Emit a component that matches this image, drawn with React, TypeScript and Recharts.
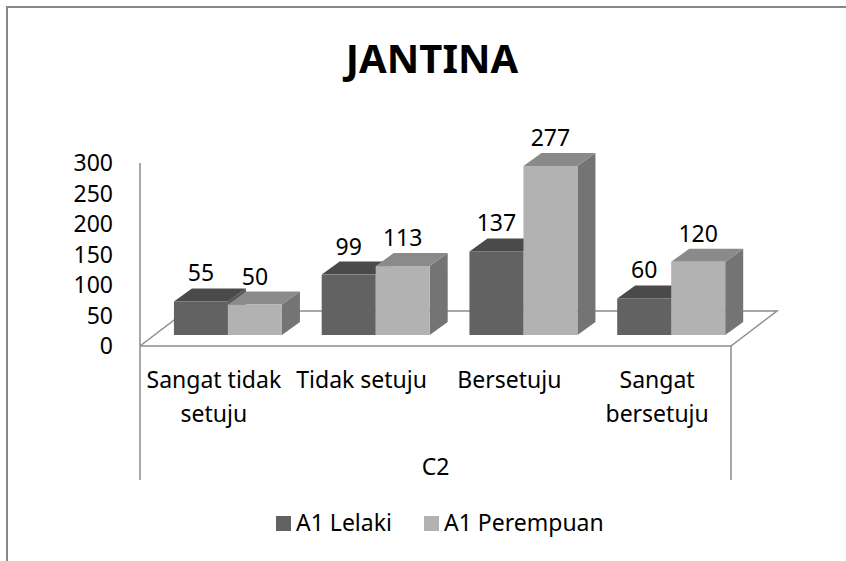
import { BarChart, Bar, XAxis, YAxis, LabelList, Customized } from "recharts"

const categories = ["Sangat tidak setuju", "Tidak setuju", "Bersetuju", "Sangat bersetuju"]
const categoryLines = [["Sangat tidak", "setuju"], ["Tidak setuju"], ["Bersetuju"], ["Sangat", "bersetuju"]]
const lelaki = [55, 99, 137, 60]
const perempuan = [50, 113, 277, 120]
const yTicks = [0, 50, 100, 150, 200, 250, 300]
const seriesNames = ["A1 Lelaki", "A1 Perempuan"]

const data = categories.map((name, i) => ({ name, lelaki: lelaki[i], perempuan: perempuan[i] }))

const FONT = "'Noto Sans', sans-serif"
const LINE = "#8c8c8c"

// plot box (fixed by margins below)
const LEFT = 140
const RIGHT = 731
const BOTTOM = 346

// fake 3d offsets
const SX = 14
const SY = -11
const DX = 18
const DY = -13
const FX = 46
const FY = -35

const colors = {
  lelaki: { front: "#626262", top: "#4a4a4a", side: "#555555" },
  perempuan: { front: "#b2b2b2", top: "#8a8a8a", side: "#747474" },
}

const box = (c: { front: string; top: string; side: string }) => (props: any) => {
  const { x, y, width, height } = props
  const fx = x + SX
  const fy = y + SY
  const fb = fy + height
  return (
    <g>
      <polygon
        points={`${fx + width},${fy} ${fx + width + DX},${fy + DY} ${fx + width + DX},${fb + DY} ${fx + width},${fb}`}
        fill={c.side}
      />
      <polygon
        points={`${fx},${fy} ${fx + DX},${fy + DY} ${fx + width + DX},${fy + DY} ${fx + width},${fy}`}
        fill={c.top}
      />
      <rect x={fx} y={fy} width={width} height={height} fill={c.front} />
    </g>
  )
}

const valueLabel = (props: any) => {
  const { x, y, width, value } = props
  return (
    <text x={x + width / 2 + SX} y={y + SY - 20} textAnchor="middle" fontSize={23} fontFamily={FONT} fill="#000">
      {value}
    </text>
  )
}

const CategoryTick = (props: any) => {
  const { x, y, payload } = props
  const lines = categoryLines[categories.indexOf(payload.value)] || [payload.value]
  return (
    <g>
      {lines.map((l, i) => (
        <text key={i} x={x} y={y + 42 + i * 34} textAnchor="middle" fontSize={23} fontFamily={FONT} fill="#000">
          {l}
        </text>
      ))}
    </g>
  )
}

const Floor = () => (
  <g stroke={LINE} strokeWidth={1.5} fill="none">
    <polyline points="7,561 7,7 846,7" stroke="#878787" strokeWidth={2} />
    <polyline points={`${LEFT},${BOTTOM} ${LEFT + FX},${BOTTOM + FY} ${RIGHT + FX},${BOTTOM + FY} ${RIGHT},${BOTTOM}`} />
    <line x1={LEFT} y1={BOTTOM} x2={LEFT} y2={480} />
    <line x1={RIGHT} y1={BOTTOM} x2={RIGHT} y2={480} />
  </g>
)

const legendX = [276, 424]
const legendColors = [colors.lelaki.front, colors.perempuan.front]

const Extras = () => (
  <g fontFamily={FONT}>
    <text x={432} y={73} textAnchor="middle" fontSize={40} fontWeight="bold" fill="#000">
      JANTINA
    </text>
    <text x={(LEFT + RIGHT) / 2} y={475} textAnchor="middle" fontSize={23} fill="#000">
      C2
    </text>
    {seriesNames.map((n, i) => (
      <g key={n}>
        <rect x={legendX[i]} y={516} width={15} height={15} fill={legendColors[i]} />
        <text x={legendX[i] + 20} y={531} fontSize={23} fill="#000">
          {n}
        </text>
      </g>
    ))}
  </g>
)

export default function App() {
  return (
    <div style={{ position: "absolute", left: 0, top: 0, width: 846, height: 561, overflow: "hidden", background: "#fff" }}>
      <BarChart
        width={846}
        height={561}
        data={data}
        margin={{ top: 163, right: 115, bottom: 75, left: 80 }}
        barCategoryGap="13.5%"
        barGap={0}
      >
        <Customized component={Floor} />
        <XAxis
          dataKey="name"
          height={140}
          axisLine={{ stroke: LINE, strokeWidth: 1.5 }}
          tickLine={false}
          tickSize={0}
          tickMargin={0}
          interval={0}
          tick={<CategoryTick />}
        />
        <YAxis
          width={60}
          domain={[0, 300]}
          ticks={yTicks}
          interval={0}
          axisLine={{ stroke: LINE, strokeWidth: 1.5 }}
          tickLine={false}
          tickSize={0}
          tickMargin={27}
          tick={{ fill: "#000", fontSize: 23, fontFamily: FONT }}
        />
        <Bar dataKey="lelaki" name={seriesNames[0]} shape={box(colors.lelaki)} isAnimationActive={false}>
          <LabelList dataKey="lelaki" content={valueLabel} />
        </Bar>
        <Bar dataKey="perempuan" name={seriesNames[1]} shape={box(colors.perempuan)} isAnimationActive={false}>
          <LabelList dataKey="perempuan" content={valueLabel} />
        </Bar>
        <Customized component={Extras} />
      </BarChart>
    </div>
  )
}
